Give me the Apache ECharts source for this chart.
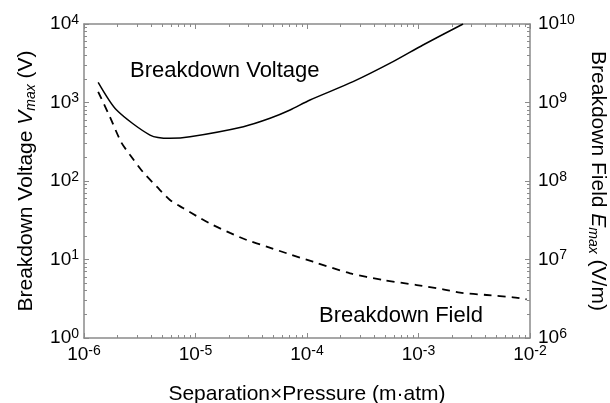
<!DOCTYPE html>
<html>
<head>
<meta charset="utf-8">
<script src="https://cdn.jsdelivr.net/npm/echarts@6/dist/echarts.min.js"></script>
<style>html,body{margin:0;padding:0;background:#fff}#c{width:610px;height:403px}</style>
</head>
<body>
<div id="c"></div>
<script>
// Separation x Pressure (m·atm)
const voltageX = [1.34e-6, 1.96e-6, 3.91e-6, 5.9e-6, 8.93e-6, 2.69e-5, 4.66e-5, 7.05e-5, 1.064e-4, 2.59e-4, 5.91e-4, 1.097e-3, 2.51e-3];
// Breakdown voltage (V)
const voltageY = [1808, 802, 385, 350, 366, 492, 629, 802, 1076, 1841, 3311, 5402, 10000];

const fieldX = [1.34e-6, 1.71e-6, 2.15e-6, 2.59e-6, 3.38e-6, 4.52e-6, 5.9e-6, 7.73e-6, 1.096e-5, 1.435e-5, 2.04e-5, 2.88e-5, 4.35e-5, 6.58e-5, 1.132e-4, 2.43e-4, 4.81e-4, 9.64e-4, 1.66e-3, 2.36e-3, 4.09e-3, 7.05e-3, 9.33e-3];
// Breakdown field (V/m)
const fieldY = [1.37e9, 6.53e8, 3.14e8, 2.14e8, 1.30e8, 8.39e7, 5.73e7, 4.53e7, 3.38e7, 2.75e7, 2.18e7, 1.77e7, 1.46e7, 1.20e7, 9.37e6, 6.67e6, 5.48e6, 4.73e6, 4.17e6, 3.78e6, 3.53e6, 3.30e6, 3.11e6];

const xRange = [1e-6, 1e-2];
const vRange = [1, 1e4];
const eRange = [1e6, 1e10];

const FONT = 'Liberation Sans, Arial, Helvetica, sans-serif';
const GRAY = '#8a8a8a';

function expLabel(v) {
  const e = Math.round(Math.log10(v));
  return '{b|10}{s|' + e + '}';
}
const tickRich = {
  b: {fontSize: 19, fontFamily: FONT, color: '#000', lineHeight: 20},
  s: {fontSize: 14, fontFamily: FONT, color: '#000', lineHeight: 14, padding: [0, 0, 8, 0]}
};
function axisCommon(extra) {
  return Object.assign({
    type: 'log',
    logBase: 10,
    axisLine: {show: true, lineStyle: {color: GRAY, width: 1.5}},
    axisTick: {show: true, inside: true, length: 5, lineStyle: {color: GRAY, width: 1}},
    minorTick: {show: true, splitNumber: 9, length: 3, lineStyle: {color: GRAY, width: 1}},
    splitLine: {show: false},
    minorSplitLine: {show: false}
  }, extra);
}

const chart = echarts.init(document.getElementById('c'), null, {renderer: 'canvas'});
chart.setOption({
  animation: false,
  backgroundColor: '#fff',
  grid: {left: 84, right: 80, top: 24, bottom: 65, containLabel: false, outerBoundsMode: 'none'},
  xAxis: [
    axisCommon({
      position: 'bottom', min: xRange[0], max: xRange[1],
      axisLabel: {formatter: expLabel, rich: tickRich, margin: 7},
      name: 'Separation×Pressure (m·atm)',
      nameLocation: 'middle', nameGap: 46,
      nameTextStyle: {fontSize: 21, fontFamily: FONT, color: '#000'}
    }),
    axisCommon({
      position: 'top', min: xRange[0], max: xRange[1],
      axisLabel: {show: false}
    })
  ],
  yAxis: [
    axisCommon({
      position: 'left', min: vRange[0], max: vRange[1],
      axisLabel: {formatter: expLabel, rich: tickRich, margin: 5},
      name: 'Breakdown Voltage {i|V}{sub|max} (V)',
      nameLocation: 'middle', nameGap: 46, nameRotate: 90,
      nameTextStyle: {
        fontSize: 21, fontFamily: FONT, color: '#000',
        rich: {
          i: {fontSize: 21, fontFamily: FONT, fontStyle: 'italic', color: '#000'},
          sub: {fontSize: 14, fontFamily: FONT, fontStyle: 'italic', color: '#000', padding: [10, 0, 0, 0]}
        }
      }
    }),
    axisCommon({
      position: 'right', min: eRange[0], max: eRange[1],
      axisLabel: {formatter: expLabel, rich: tickRich, margin: 8},
      name: 'Breakdown Field {i|E}{sub|max} (V/m)',
      nameLocation: 'middle', nameGap: 55, nameRotate: -90,
      nameTextStyle: {
        fontSize: 21, fontFamily: FONT, color: '#000',
        rich: {
          i: {fontSize: 21, fontFamily: FONT, fontStyle: 'italic', color: '#000'},
          sub: {fontSize: 14, fontFamily: FONT, fontStyle: 'italic', color: '#000', padding: [10, 0, 0, 0]}
        }
      }
    })
  ],
  series: [
    {
      name: 'Breakdown Voltage', type: 'line', xAxisIndex: 0, yAxisIndex: 0,
      data: voltageX.map((x, i) => [x, voltageY[i]]),
      showSymbol: false, symbol: 'none', smooth: 0.25, clip: true,
      lineStyle: {color: '#000', width: 1.5}
    },
    {
      name: 'Breakdown Field', type: 'line', xAxisIndex: 0, yAxisIndex: 1,
      data: fieldX.map((x, i) => [x, fieldY[i]]),
      showSymbol: false, symbol: 'none', smooth: 0.25, clip: true,
      lineStyle: {color: '#000', width: 1.8, type: [8, 6]}
    }
  ],
  graphic: [
    {type: 'text', left: 130, top: 60, style: {text: 'Breakdown Voltage', font: '22px ' + FONT, fill: '#000'}},
    {type: 'text', left: 319, top: 305, style: {text: 'Breakdown Field', font: '22px ' + FONT, fill: '#000'}}
  ]
});
</script>
</body>
</html>
